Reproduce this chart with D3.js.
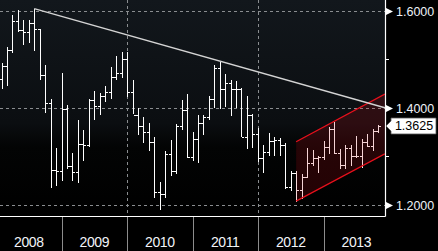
<!DOCTYPE html>
<html>
<head>
<meta charset="utf-8">
<script src="https://cdn.jsdelivr.net/npm/d3@7"></script>
<style>
  body { margin: 0; background: #000; }
  svg { display: block; }
</style>
</head>
<body>
<div id="chart"></div>
<script>
// monthly bars, Jan 2008 .. Oct 2013
var firstMonth = "2008-01";

var opens = [
  1.459, 1.486, 1.518, 1.579, 1.560, 1.555, 1.575, 1.561, 1.468, 1.409, 1.273, 1.270,
  1.397, 1.280, 1.267, 1.325, 1.324, 1.415, 1.403, 1.425, 1.433, 1.464, 1.472, 1.501,
  1.432, 1.386, 1.362, 1.351, 1.329, 1.227, 1.223, 1.305, 1.270, 1.363, 1.395, 1.298,
  1.336, 1.369, 1.381, 1.417, 1.481, 1.439, 1.450, 1.439, 1.438, 1.339, 1.386, 1.345,
  1.296, 1.308, 1.332, 1.334, 1.324, 1.237, 1.266, 1.231, 1.258, 1.286, 1.296, 1.299,
  1.319, 1.357, 1.306, 1.282, 1.317, 1.300, 1.301, 1.330, 1.322, 1.353
];
var highs = [
  1.493, 1.524, 1.590, 1.602, 1.581, 1.580, 1.604, 1.561, 1.487, 1.418, 1.318, 1.472,
  1.405, 1.307, 1.374, 1.355, 1.418, 1.434, 1.430, 1.445, 1.484, 1.506, 1.514, 1.514,
  1.458, 1.399, 1.381, 1.369, 1.340, 1.247, 1.311, 1.333, 1.367, 1.416, 1.428, 1.350,
  1.386, 1.386, 1.425, 1.488, 1.494, 1.470, 1.458, 1.455, 1.440, 1.425, 1.387, 1.358,
  1.324, 1.349, 1.339, 1.337, 1.328, 1.269, 1.270, 1.264, 1.317, 1.314, 1.301, 1.331,
  1.360, 1.371, 1.316, 1.324, 1.324, 1.342, 1.335, 1.345, 1.357, 1.364
];
var lows = [
  1.438, 1.444, 1.513, 1.555, 1.530, 1.533, 1.516, 1.458, 1.390, 1.234, 1.239, 1.250,
  1.274, 1.249, 1.246, 1.291, 1.320, 1.375, 1.386, 1.412, 1.419, 1.458, 1.462, 1.422,
  1.387, 1.344, 1.327, 1.311, 1.214, 1.190, 1.215, 1.259, 1.264, 1.355, 1.297, 1.290,
  1.287, 1.343, 1.375, 1.400, 1.397, 1.401, 1.384, 1.400, 1.339, 1.315, 1.318, 1.288,
  1.266, 1.300, 1.300, 1.300, 1.233, 1.229, 1.206, 1.213, 1.256, 1.280, 1.266, 1.293,
  1.305, 1.304, 1.275, 1.275, 1.280, 1.297, 1.276, 1.319, 1.311, 1.349
];
var closes = [
  1.486, 1.518, 1.579, 1.560, 1.555, 1.575, 1.561, 1.468, 1.409, 1.273, 1.270, 1.397,
  1.280, 1.267, 1.325, 1.324, 1.415, 1.403, 1.425, 1.433, 1.464, 1.472, 1.501, 1.432,
  1.386, 1.362, 1.351, 1.329, 1.227, 1.223, 1.305, 1.270, 1.363, 1.395, 1.298, 1.336,
  1.369, 1.381, 1.417, 1.481, 1.439, 1.450, 1.439, 1.438, 1.339, 1.386, 1.345, 1.296,
  1.308, 1.332, 1.334, 1.324, 1.237, 1.266, 1.231, 1.258, 1.286, 1.296, 1.299, 1.319,
  1.357, 1.306, 1.282, 1.317, 1.300, 1.301, 1.330, 1.322, 1.353, 1.3625
];

// white resistance line
var trendDates = ["2008-08-01", "2013-12-09"];
var trendValues = [1.604, 1.400];

// red channel
var channelDates = ["2012-08-01", "2013-12-09"];
var channelLow = [1.208, 1.305];
var channelHigh = [1.330, 1.428];

var years = [2008, 2009, 2010, 2011, 2012, 2013];
var yLabels = [1.2, 1.4, 1.6];
var yMinor = [1.3, 1.5];
var lastPrice = 1.3625;

var width = 438, height = 251;
var plotW = 385, plotH = 216;

var parse = d3.timeParse("%Y-%m-%d");
var parseMonth = d3.timeParse("%Y-%m");

var x = d3.scaleTime()
  .domain([new Date(2008, 0, 1), new Date(2014, 0, 1)])
  .range([-4, 389]);

var y = d3.scaleLinear()
  .domain([1.2, 1.6])
  .range([205, 10.5]);

var bars = opens.map(function(o, i) {
  // each month's bar sits at the close of the month
  var m = d3.timeMonth.offset(parseMonth(firstMonth), i + 1);
  return { date: m, open: o, high: highs[i], low: lows[i], close: closes[i] };
});

var svg = d3.select("#chart").append("svg")
  .attr("width", width)
  .attr("height", height);

var defs = svg.append("defs");
var grad = defs.append("linearGradient")
  .attr("id", "bg").attr("x1", 0).attr("y1", 0).attr("x2", 0).attr("y2", 1);
grad.append("stop").attr("offset", "0%").attr("stop-color", "#12171c");
grad.append("stop").attr("offset", "57%").attr("stop-color", "#0b0e11");
grad.append("stop").attr("offset", "68%").attr("stop-color", "#030404");
grad.append("stop").attr("offset", "100%").attr("stop-color", "#000");

defs.append("clipPath").attr("id", "plotclip")
  .append("rect").attr("x", 0).attr("y", 0).attr("width", plotW).attr("height", plotH);

svg.append("rect").attr("width", width).attr("height", height).attr("fill", "#000");
svg.append("rect")
  .attr("width", plotW).attr("height", plotH)
  .attr("fill", "url(#bg)");

var plot = svg.append("g").attr("clip-path", "url(#plotclip)");

// dashed grid
plot.selectAll(".hgrid")
  .data(yLabels)
  .enter().append("line")
  .attr("x1", 0).attr("x2", plotW)
  .attr("y1", function(d) { return Math.round(y(d)) + 0.5; })
  .attr("y2", function(d) { return Math.round(y(d)) + 0.5; })
  .attr("stroke", "#8a8d90")
  .attr("stroke-dasharray", "3,3");

plot.selectAll(".vgrid")
  .data([2010, 2012])
  .enter().append("line")
  .attr("x1", function(d) { return Math.round(x(new Date(d, 0, 1))) + 0.5; })
  .attr("x2", function(d) { return Math.round(x(new Date(d, 0, 1))) + 0.5; })
  .attr("y1", 0).attr("y2", plotH)
  .attr("stroke", "#8a8d90")
  .attr("stroke-dasharray", "3,3");

// OHLC bars
var bar = plot.selectAll(".bar")
  .data(bars)
  .enter().append("g")
  .attr("class", "bar")
  .attr("stroke", "#fff")
  .attr("stroke-width", 1.1)
  .attr("shape-rendering", "crispEdges");

function bx(d) { return Math.round(x(d.date)) + 0.5; }

bar.append("line")
  .attr("x1", bx).attr("x2", bx)
  .attr("y1", function(d) { return y(d.high); })
  .attr("y2", function(d) { return y(d.low); });
bar.append("line")
  .attr("x1", function(d) { return bx(d) - 2.5; }).attr("x2", bx)
  .attr("y1", function(d) { return Math.round(y(d.open)) + 0.5; })
  .attr("y2", function(d) { return Math.round(y(d.open)) + 0.5; });
bar.append("line")
  .attr("x1", bx).attr("x2", function(d) { return bx(d) + 2.5; })
  .attr("y1", function(d) { return Math.round(y(d.close)) + 0.5; })
  .attr("y2", function(d) { return Math.round(y(d.close)) + 0.5; });

// channel
var cx0 = x(parse(channelDates[0])), cx1 = x(parse(channelDates[1]));
plot.append("path")
  .attr("d", "M" + cx0 + "," + y(channelLow[0]) +
             "L" + cx1 + "," + y(channelLow[1]) +
             "L" + cx1 + "," + y(channelHigh[1]) +
             "L" + cx0 + "," + y(channelHigh[0]) + "Z")
  .attr("fill", "rgb(200,10,20)")
  .attr("fill-opacity", 0.18);

[channelLow, channelHigh].forEach(function(vals) {
  plot.append("line")
    .attr("x1", cx0).attr("y1", y(vals[0]))
    .attr("x2", cx1).attr("y2", y(vals[1]))
    .attr("stroke", "#e8101c")
    .attr("stroke-width", 1.3);
});

// trend line
plot.append("line")
  .attr("x1", x(parse(trendDates[0]))).attr("y1", y(trendValues[0]))
  .attr("x2", x(parse(trendDates[1]))).attr("y2", y(trendValues[1]))
  .attr("stroke", "#d4d4d4")
  .attr("stroke-width", 1.4);

// frame
svg.append("line")
  .attr("x1", 0).attr("x2", plotW + 0.5)
  .attr("y1", plotH + 0.5).attr("y2", plotH + 0.5)
  .attr("stroke", "#fff").attr("stroke-width", 1.2);
svg.append("line")
  .attr("x1", plotW + 0.5).attr("x2", plotW + 0.5)
  .attr("y1", 0).attr("y2", plotH + 0.5)
  .attr("stroke", "#fff").attr("stroke-width", 1.2);

// x axis: year separators and labels
svg.selectAll(".ysep")
  .data(years.slice(1))
  .enter().append("line")
  .attr("x1", function(d) { return Math.round(x(new Date(d, 0, 1))) + 0.5; })
  .attr("x2", function(d) { return Math.round(x(new Date(d, 0, 1))) + 0.5; })
  .attr("y1", plotH + 1).attr("y2", height)
  .attr("stroke", "#8c8c8c");

svg.selectAll(".ylab")
  .data(years)
  .enter().append("text")
  .attr("x", function(d) {
    var a = Math.max(x(new Date(d, 0, 1)), -4);
    var b = Math.min(x(new Date(d + 1, 0, 1)), plotW + 4);
    return (a + b) / 2;
  })
  .attr("y", 247)
  .attr("text-anchor", "middle")
  .attr("font-family", "Liberation Sans, Arial, sans-serif")
  .attr("font-size", 14)
  .attr("letter-spacing", -0.4)
  .attr("fill", "#f2f4f8")
  .text(function(d) { return d; });

// y axis on the right
svg.selectAll(".ymin")
  .data(yMinor)
  .enter().append("line")
  .attr("x1", plotW).attr("x2", plotW + 4)
  .attr("y1", function(d) { return Math.round(y(d)) + 0.5; })
  .attr("y2", function(d) { return Math.round(y(d)) + 0.5; })
  .attr("stroke", "#fff");

var yl = svg.selectAll(".ytick")
  .data(yLabels)
  .enter().append("g")
  .attr("transform", function(d) { return "translate(0," + (Math.round(y(d)) + 0.5) + ")"; });
yl.append("path")
  .attr("d", "M" + (plotW + 1) + ",-3.5L" + (plotW + 8) + ",0L" + (plotW + 1) + ",3.5Z")
  .attr("fill", "#fff");
yl.append("text")
  .attr("x", 396)
  .attr("y", 4.5)
  .attr("font-family", "Liberation Sans, Arial, sans-serif")
  .attr("font-size", 12.5)
  .attr("fill", "#eef2f8")
  .text(function(d) { return d3.format(".4f")(d); });

// last price tag
var ly = y(lastPrice);
svg.append("path")
  .attr("d", "M386," + ly + "L391," + (ly - 5) + "L391," + (ly - 8) +
             "L436," + (ly - 8) + "L436," + (ly + 8) + "L391," + (ly + 8) +
             "L391," + (ly + 5) + "Z")
  .attr("fill", "#fff")
  .attr("stroke", "#555")
  .attr("stroke-width", 0.8);
svg.append("text")
  .attr("x", 414)
  .attr("y", ly + 4.5)
  .attr("text-anchor", "middle")
  .attr("font-family", "Liberation Sans, Arial, sans-serif")
  .attr("font-size", 12.5)
  .attr("fill", "#000")
  .text(d3.format(".4f")(lastPrice));
</script>
</body>
</html>
